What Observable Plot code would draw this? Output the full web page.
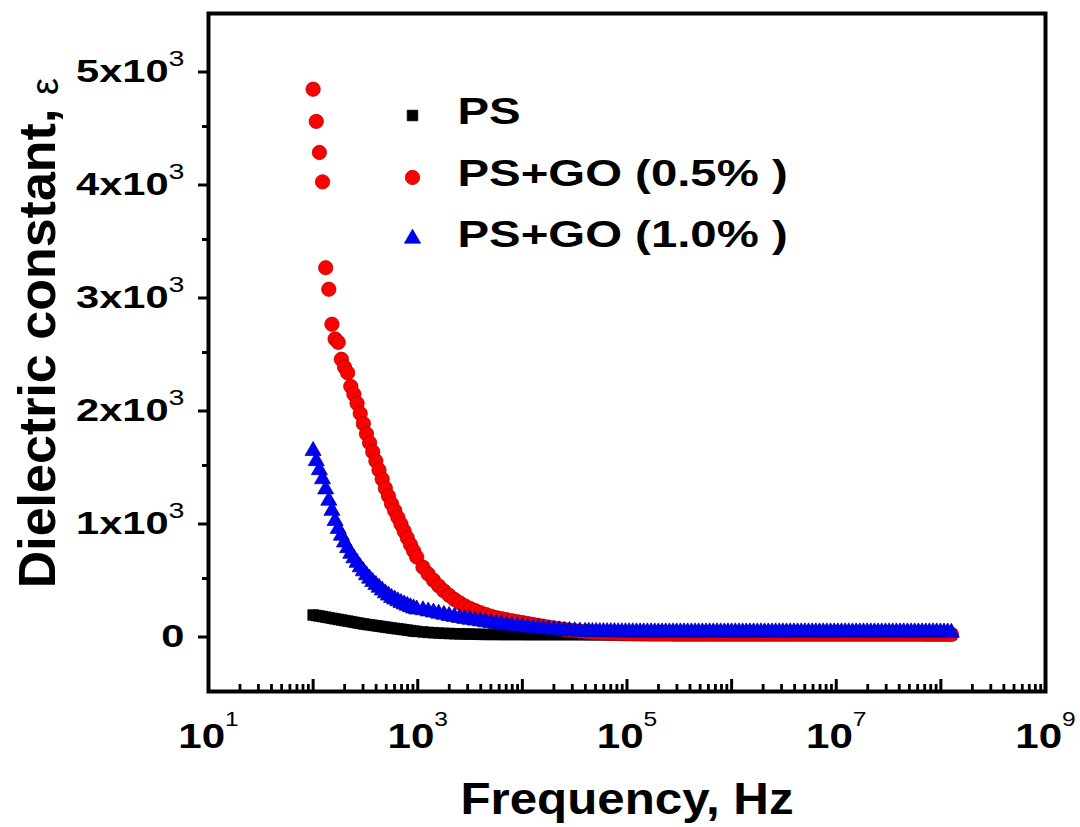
<!DOCTYPE html>
<html>
<head>
<meta charset="utf-8">
<script src="https://cdn.jsdelivr.net/npm/d3@7"></script>
<script src="https://cdn.jsdelivr.net/npm/@observablehq/plot@0.6"></script>
<style>
  html, body { margin: 0; padding: 0; background: #ffffff; }
  #chart svg { display: block; }
</style>
</head>
<body>
<div id="chart"></div>
<script>
// ---- Data ----
// log10 of frequency (Hz) of each measured point
const logFreq = [
  2.00, 2.03, 2.06, 2.09, 2.12, 2.15, 2.18, 2.21, 2.24, 2.27, 2.30, 2.33, 2.36, 2.39, 2.42, 2.45, 2.48,
  2.51, 2.54, 2.57, 2.60, 2.63, 2.66, 2.69, 2.72, 2.75, 2.78, 2.81, 2.84, 2.87, 2.90, 2.93, 2.96, 2.99,
  3.05, 3.10, 3.15, 3.20, 3.25, 3.30, 3.35, 3.40, 3.45, 3.50, 3.55, 3.60, 3.65, 3.70, 3.75, 3.80,
  3.85, 3.90, 3.95, 4.00, 4.05, 4.10, 4.15, 4.20, 4.25, 4.30, 4.35, 4.40, 4.45, 4.50, 4.55,
  4.600, 4.635, 4.670, 4.705, 4.740, 4.775, 4.810, 4.845, 4.880, 4.915,
  4.950, 4.985, 5.020, 5.055, 5.090, 5.125, 5.160, 5.195, 5.230, 5.265,
  5.300, 5.335, 5.370, 5.405, 5.440, 5.475, 5.510, 5.545, 5.580, 5.615,
  5.650, 5.685, 5.720, 5.755, 5.790, 5.825, 5.860, 5.895, 5.930, 5.965,
  6.000, 6.035, 6.070, 6.105, 6.140, 6.175, 6.210, 6.245, 6.280, 6.315,
  6.350, 6.385, 6.420, 6.455, 6.490, 6.525, 6.560, 6.595, 6.630, 6.665,
  6.700, 6.735, 6.770, 6.805, 6.840, 6.875, 6.910, 6.945, 6.980, 7.015,
  7.050, 7.085, 7.120, 7.155, 7.190, 7.225, 7.260, 7.295, 7.330, 7.365,
  7.400, 7.435, 7.470, 7.505, 7.540, 7.575, 7.610, 7.645, 7.680, 7.715,
  7.750, 7.785, 7.820, 7.855, 7.890, 7.925, 7.960, 7.995, 8.030, 8.065,
  8.100
];

const psValues = [
  177, 172, 168, 163, 158, 153, 148, 143, 138, 133, 128, 123, 118, 113, 108, 103, 98,
  94, 90, 86, 82, 78, 74, 70, 66, 62, 58, 55, 51, 47, 43, 39, 35, 32,
  27, 23, 20, 17, 15, 13, 11, 10, 9, 8, 7, 6, 5, 5, 5, 4,
  4, 4, 4, 4, 3, 3, 3, 3, 3, 3, 3, 3, 3, 3, 3,
  3, 3, 3, 3, 3, 3, 3, 3, 3, 3,
  3, 3, 3, 3, 3, 3, 3, 3, 3, 3,
  3, 3, 3, 3, 3, 3, 3, 3, 3, 3,
  3, 3, 3, 3, 3, 3, 3, 3, 3, 3,
  3, 3, 3, 3, 3, 3, 3, 3, 3, 3,
  3, 3, 3, 3, 3, 3, 3, 3, 3, 3,
  3, 3, 3, 3, 3, 3, 3, 3, 3, 3,
  3, 3, 3, 3, 3, 3, 3, 3, 3, 3,
  3, 3, 3, 3, 3, 3, 3, 3, 3, 3,
  3, 3, 3, 3, 3, 3, 3, 3, 3, 3,
  3
];

const go05Values = [
  4830, 4545, 4270, 4010, 3250, 3060, 2750, 2620, 2590, 2440, 2370, 2320, 2200, 2130, 2050, 1960, 1870,
  1780, 1700, 1620, 1540, 1460, 1380, 1300, 1230, 1160, 1100, 1040, 980, 920, 860, 800, 745, 690,
  600, 540, 485, 435, 390, 350, 315, 285, 258, 235, 215, 197, 181, 167, 154, 145,
  135, 126, 118, 110, 102, 94, 86, 78, 70, 63, 56, 49, 43, 38, 33,
  29, 27, 24, 22, 20, 18, 17, 15, 14, 13,
  12, 11, 11, 10, 10, 9, 9, 9, 8, 8,
  8, 8, 8, 8, 7, 7, 7, 7, 7, 7,
  7, 7, 7, 7, 7, 7, 7, 7, 7, 7,
  7, 7, 7, 7, 7, 7, 7, 7, 7, 7,
  7, 7, 7, 7, 7, 7, 7, 7, 7, 7,
  7, 7, 7, 7, 7, 7, 7, 7, 7, 7,
  7, 7, 7, 7, 7, 7, 7, 7, 7, 7,
  7, 7, 7, 7, 7, 7, 7, 7, 7, 7,
  7, 7, 7, 6, 6, 6, 6, 6, 6, 6,
  5
];

const go10Values = [
  1630, 1540, 1460, 1380, 1290, 1190, 1100, 1010, 940, 880, 820, 770, 720, 680, 640, 600, 565,
  530, 500, 470, 445, 420, 395, 370, 350, 330, 315, 300, 285, 272, 260, 248, 237, 227,
  220, 210, 200, 190, 180, 170, 161, 152, 144, 136, 129, 122, 114, 107, 100, 94,
  88, 82, 77, 72, 67, 62, 58, 54, 50, 46, 43, 40, 37, 34, 32,
  30, 30, 29, 29, 28, 28, 27, 27, 27, 26,
  26, 26, 26, 26, 25, 25, 25, 25, 25, 25,
  25, 25, 25, 25, 25, 25, 25, 25, 25, 25,
  25, 25, 25, 25, 25, 25, 25, 25, 25, 25,
  25, 25, 25, 25, 25, 25, 25, 25, 25, 25,
  25, 25, 25, 25, 25, 25, 25, 25, 25, 25,
  25, 25, 25, 25, 25, 25, 25, 25, 25, 25,
  25, 25, 25, 25, 25, 25, 25, 25, 25, 25,
  25, 25, 25, 25, 25, 25, 25, 25, 25, 25,
  25, 25, 25, 25, 25, 25, 25, 24, 24, 24,
  22
];

const seriesNames = ["PS", "PS+GO (0.5% )", "PS+GO (1.0% )"];
const seriesFill = ["#000000", "#ff0000", "#0000ff"];
const seriesStroke = ["#000000", "#a00000", "#000090"];
const seriesSymbol = ["square", "circle", "triangle"];

const yMajorTicks = [0, 1000, 2000, 3000, 4000, 5000];
const yTickLabels = ["0", "1x10^3", "2x10^3", "3x10^3", "4x10^3", "5x10^3"];
const yMinorTicks = [500, 1500, 2500, 3500, 4500];

const xDecades = [1e1, 1e2, 1e3, 1e4, 1e5, 1e6, 1e7, 1e8, 1e9];
const xLabelTicks = [1e1, 1e3, 1e5, 1e7, 1e9];
const xTickLabels = ["10^1", "10^3", "10^5", "10^7", "10^9"];
const xMinorMultipliers = [2, 3, 4, 5, 6, 7, 8, 9];

const xTitle = "Frequency, Hz";
const yTitle = "Dielectric constant,";
const yTitleSymbol = "\u03b5";

// ---- Build tables ----
const valueSets = [psValues, go05Values, go10Values];
const seriesData = valueSets.map((vals, s) =>
  logFreq.map((lf, i) => ({f: Math.pow(10, lf), v: vals[i], s: seriesNames[s]}))
);
const xMinorTicks = xDecades.slice(0, -1).flatMap(d => xMinorMultipliers.map(m => d * m));

const FONT = "'Liberation Sans', Arial, Helvetica, sans-serif";
const markerR = [6, 7.2, 6];

const dataMarks = seriesData.map((rows, s) =>
  Plot.dot(rows, {
    x: "f", y: "v",
    symbol: seriesSymbol[s], r: markerR[s],
    fill: seriesFill[s], stroke: seriesStroke[s], strokeWidth: 0.7
  })
);

const legendMarkerDy = [102, 164, 225];
const legendTextDy = [99, 161, 222];
const legendMarks = seriesNames.flatMap((name, s) => [
  Plot.dot([name], {
    frameAnchor: "top-left", dx: 204, dy: legendMarkerDy[s],
    symbol: seriesSymbol[s], r: markerR[s],
    fill: seriesFill[s], stroke: seriesStroke[s], strokeWidth: 0.7
  }),
  Plot.text([name], {
    frameAnchor: "top-left", dx: 249, dy: legendTextDy[s],
    text: d => d, textAnchor: "start", lineAnchor: "middle",
    fontSize: 37, fontWeight: "bold", fill: "#000"
  })
]);

const chart = Plot.plot({
  width: 1080,
  height: 827,
  marginLeft: 208,
  marginRight: 35,
  marginTop: 13,
  marginBottom: 136,
  style: {fontFamily: FONT, fontWeight: "bold", color: "#000", background: "#fff"},
  x: {type: "log", domain: [1e1, 1e9]},
  y: {domain: [-500, 5500]},
  marks: [
    ...dataMarks,
    Plot.frame({stroke: "#000", strokeWidth: 4}),
    Plot.axisY(yMajorTicks, {anchor: "left", tickSize: 10, tickPadding: 14, strokeWidth: 3,
      fontSize: 32, dy: 2, label: null,
      tickFormat: d => yTickLabels[yMajorTicks.indexOf(d)]}),
    Plot.axisY(yMinorTicks, {anchor: "left", tickSize: 6, strokeWidth: 3, label: null, tickFormat: () => ""}),
    Plot.axisX(xDecades, {anchor: "bottom", tickSize: 12, dy: -12, strokeWidth: 3, label: null, tickFormat: () => ""}),
    Plot.axisX(xMinorTicks, {anchor: "bottom", tickSize: 7, dy: -7, strokeWidth: 2.8, label: null, tickFormat: () => ""}),
    Plot.axisX(xLabelTicks, {anchor: "bottom", tickSize: 0, tickPadding: 31, fontSize: 36, label: null,
      tickFormat: d => xTickLabels[xLabelTicks.indexOf(d)]}),
    ...legendMarks,
    Plot.text([xTitle], {frameAnchor: "bottom", dy: 108, text: d => d, lineAnchor: "middle",
      fontSize: 44, fontWeight: "bold", fill: "#000"}),
    Plot.text([yTitle], {frameAnchor: "left", dx: -170, dy: -4, rotate: -90, text: d => d,
      lineAnchor: "middle", textAnchor: "middle", fontSize: 52, fontWeight: "bold", fill: "#000"}),
    Plot.text([yTitleSymbol], {frameAnchor: "left", dx: -163, dy: -266, rotate: -90, text: d => d,
      lineAnchor: "middle", textAnchor: "middle", fontSize: 38, fontWeight: "normal", fill: "#000"})
  ]
});

document.getElementById("chart").appendChild(chart);

// ---- Typographic touch-ups: superscripts and horizontal stretch like the reference ----
function stretch(el, sx) {
  const x = +el.getAttribute("x") || 0;
  const y = +el.getAttribute("y") || 0;
  const t = el.getAttribute("transform") || "";
  el.setAttribute("transform", `${t} translate(${x},${y}) scale(${sx},1) translate(${-x},${-y})`);
}
d3.select(chart).selectAll("text").each(function() {
  const t = this.textContent;
  if (!t) return;
  if (t.includes("^")) {
    const [base, sup] = t.split("^");
    const isY = base.includes("x");
    this.textContent = base;
    d3.select(this).append("tspan")
      .attr("dy", isY ? -16 : -22)
      .attr("font-size", isY ? 22 : 21)
      .attr("font-weight", "normal")
      .text(sup);
    stretch(this, isY ? 1.3 : 1.17);
  } else if (t === "0") {
    stretch(this, 1.3);
  } else if (seriesNames.includes(t)) {
    stretch(this, 1.28);
  } else if (t === xTitle) {
    stretch(this, 1.12);
  }
});
</script>
</body>
</html>
